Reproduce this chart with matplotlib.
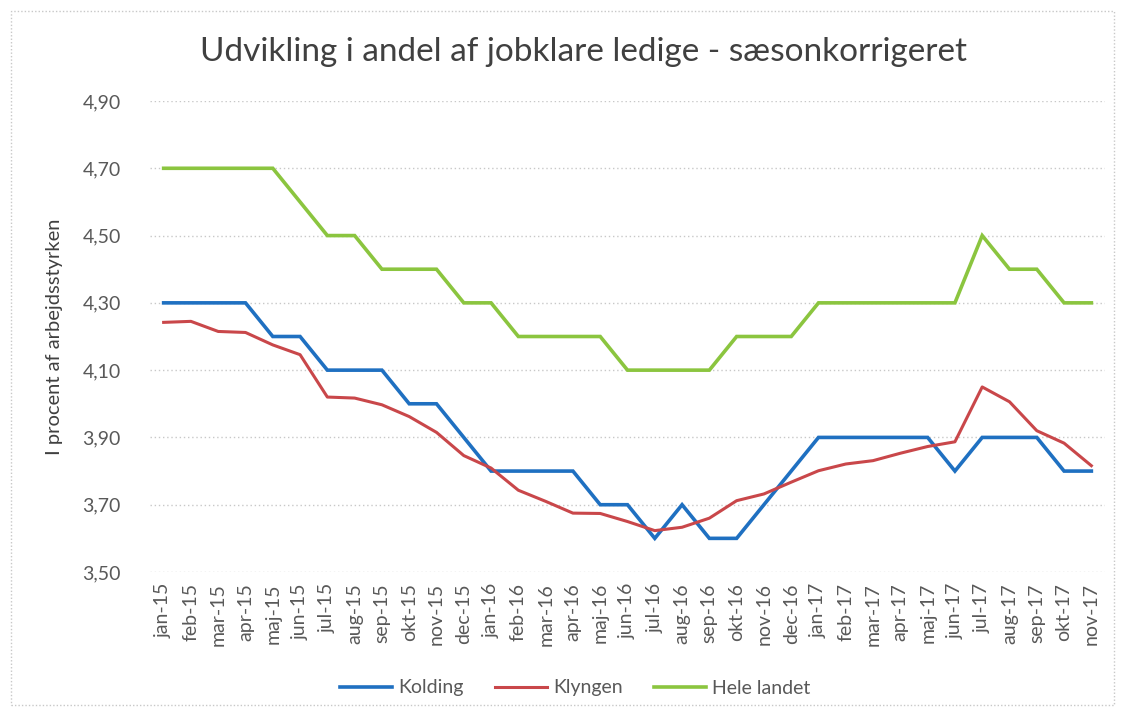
import matplotlib
matplotlib.use("Agg")
import matplotlib.pyplot as plt
from matplotlib.patches import Rectangle

plt.rcParams['font.family'] = ['Lato', 'DejaVu Sans']

months = ["jan-15", "feb-15", "mar-15", "apr-15", "maj-15", "jun-15", "jul-15", "aug-15",
          "sep-15", "okt-15", "nov-15", "dec-15", "jan-16", "feb-16", "mar-16", "apr-16",
          "maj-16", "jun-16", "jul-16", "aug-16", "sep-16", "okt-16", "nov-16", "dec-16",
          "jan-17", "feb-17", "mar-17", "apr-17", "maj-17", "jun-17", "jul-17", "aug-17",
          "sep-17", "okt-17", "nov-17"]

kolding = [4.30, 4.30, 4.30, 4.30, 4.20, 4.20, 4.10, 4.10, 4.10, 4.00, 4.00, 3.90,
           3.80, 3.80, 3.80, 3.80, 3.70, 3.70, 3.60, 3.70, 3.60, 3.60, 3.70, 3.80,
           3.90, 3.90, 3.90, 3.90, 3.90, 3.80, 3.90, 3.90, 3.90, 3.80, 3.80]

klyngen = [4.242, 4.245, 4.215, 4.212, 4.175, 4.146, 4.020, 4.017, 3.997, 3.962, 3.915, 3.846,
           3.809, 3.743, 3.710, 3.675, 3.674, 3.650, 3.623, 3.633, 3.660, 3.712, 3.732, 3.767,
           3.801, 3.821, 3.831, 3.853, 3.873, 3.887, 4.050, 4.006, 3.920, 3.883, 3.816]

hele_landet = [4.70, 4.70, 4.70, 4.70, 4.70, 4.60, 4.50, 4.50, 4.40, 4.40, 4.40, 4.30,
               4.30, 4.20, 4.20, 4.20, 4.20, 4.10, 4.10, 4.10, 4.10, 4.20, 4.20, 4.20,
               4.30, 4.30, 4.30, 4.30, 4.30, 4.30, 4.50, 4.40, 4.40, 4.30, 4.30]

yticks = [3.50, 3.70, 3.90, 4.10, 4.30, 4.50, 4.70, 4.90]

W, H = 1125, 717
fig = plt.figure(figsize=(W / 100, H / 100), dpi=100)
ax = fig.add_axes([150 / W, 1 - 572 / H, (1105 - 150) / W, (572 - 101) / H])

x = list(range(len(months)))
ax.plot(x, kolding, color='#1f70c1', lw=2.6, label='Kolding', solid_joinstyle='miter')
ax.plot(x, klyngen, color='#c9474a', lw=2.2, label='Klyngen')
ax.plot(x, hele_landet, color='#8bc53f', lw=2.6, label='Hele landet', solid_joinstyle='miter')

ax.set_xlim(-0.5, len(months) - 0.5)
ax.set_ylim(3.50, 4.90)
ax.set_yticks(yticks)
ax.set_yticklabels([f"{v:.2f}".replace('.', ',') for v in yticks])
ax.set_xticks(x)
ax.set_xticklabels(months, rotation=90)
ax.tick_params(axis='both', length=0, colors='#595959')
ax.tick_params(axis='x', pad=8, labelsize=14)
ax.tick_params(axis='y', pad=21, labelsize=14)
for s in ax.spines.values():
    s.set_visible(False)
ax.yaxis.grid(True, color='#c8c8c8', linestyle=(0, (1, 2)), lw=1)
ax.set_axisbelow(True)

ax.set_ylabel('I procent af arbejdsstyrken', fontsize=14.5, color='#404040', labelpad=14)

fig.text(583 / W, 1 - 52 / H, 'Udvikling i andel af jobklare ledige - sæsonkorrigeret',
         ha='center', va='center', fontsize=24, color='#404040')

leg = fig.legend(loc='center', bbox_to_anchor=(575 / W, 1 - 688 / H), ncol=3, frameon=False,
                 fontsize=14, handlelength=2.7, columnspacing=1.6, handletextpad=0.3)
for t in leg.get_texts():
    t.set_color('#595959')

fig.patches.append(Rectangle((11 / W, 1 - 705 / H), (1114 - 11) / W, (705 - 11) / H,
                             transform=fig.transFigure, fill=False, edgecolor='#c8c8c8',
                             linestyle=(0, (1, 1.5)), lw=1))

fig.savefig('out.png', dpi=100, facecolor='white')
